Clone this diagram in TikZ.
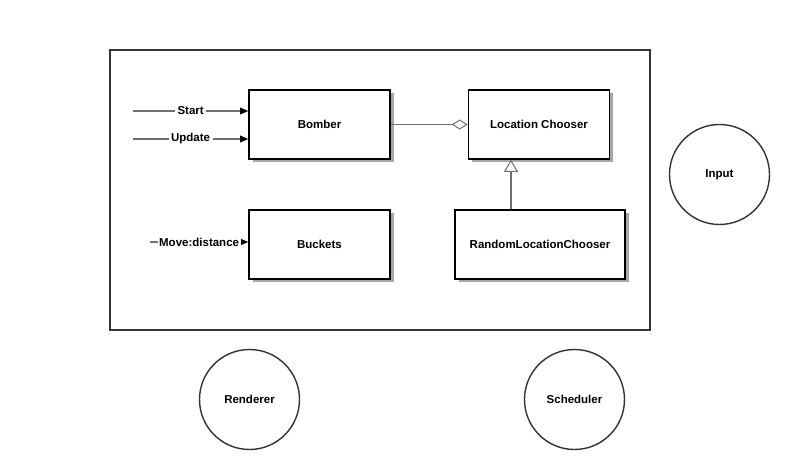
\documentclass[tikz,border=0pt]{standalone}
\usepackage{fontspec}
\setmainfont{Liberation Sans}
\usepackage{tikz}
\usetikzlibrary{positioning,arrows.meta,shadows}

\definecolor{framegray}{HTML}{333333}
\definecolor{linegray}{HTML}{6E6E6E}

\begin{document}
\begin{tikzpicture}[
    x=1pt,y=-1pt,
    every node/.style={font=\fontsize{11.5}{13}\selectfont\bfseries},
    classbox/.style={rectangle,draw=black,line width=1.6pt,fill=white,minimum width=141pt,minimum height=69pt,align=center,
        drop shadow={shadow xshift=3.5pt,shadow yshift=-3.5pt,fill=black!35,opacity=1}},
    service/.style={circle,draw=framegray,line width=1.4pt,minimum size=100pt,align=center},
    inarrow/.style={draw=linegray,line width=1.2pt,-{Triangle[length=8pt,width=7pt,fill=black,line width=0pt]}},
    lbl/.style={fill=white,inner sep=2.5pt}
]
\useasboundingbox (0,0) rectangle (790,470);

% Outer frame
\draw[framegray,line width=2pt] (110,50) rectangle (650,330);

% Classes (absolute positions)
\node[classbox] (bomber)  at (319.5,124.5) {Bomber};
\node[classbox] (chooser) at (539,124.5)   {Location Chooser};
\node[classbox] (buckets) at (319.5,244.5) {Buckets};
\node[classbox,minimum width=170pt] (random) at (540,244.5) {RandomLocationChooser};

% Services outside the frame
\node[service] (input)     at (719.5,174.5) {Input};
\node[service] (renderer)  at (249.5,399.5) {Renderer};
\node[service] (scheduler) at (574.5,399.5) {Scheduler};

% Incoming messages
\coordinate (startin)  at (133,111);
\coordinate (updatein) at (133,139);
\coordinate (movein)   at (150,242);
\draw[inarrow] (startin)  -- node[lbl] {Start}         (startin -| bomber.west);
\draw[inarrow] (updatein) -- node[lbl] {Update}        (updatein -| bomber.west);
\draw[inarrow] (movein)   -- node[lbl,inner sep=1.5pt] {Move:distance} (movein -| buckets.west);

% Aggregation and inheritance
\draw[linegray,line width=1.2pt,-{Diamond[open,fill=white,length=16pt,width=10pt,line width=1pt]}] (bomber) -- (chooser);
\draw[linegray,line width=1.2pt,-{Triangle[open,fill=white,length=12pt,width=14pt,line width=1pt]}]
    ([xshift=-29pt]random.north) -- ([xshift=-29pt]random.north |- chooser.south);

\end{tikzpicture}
\end{document}
